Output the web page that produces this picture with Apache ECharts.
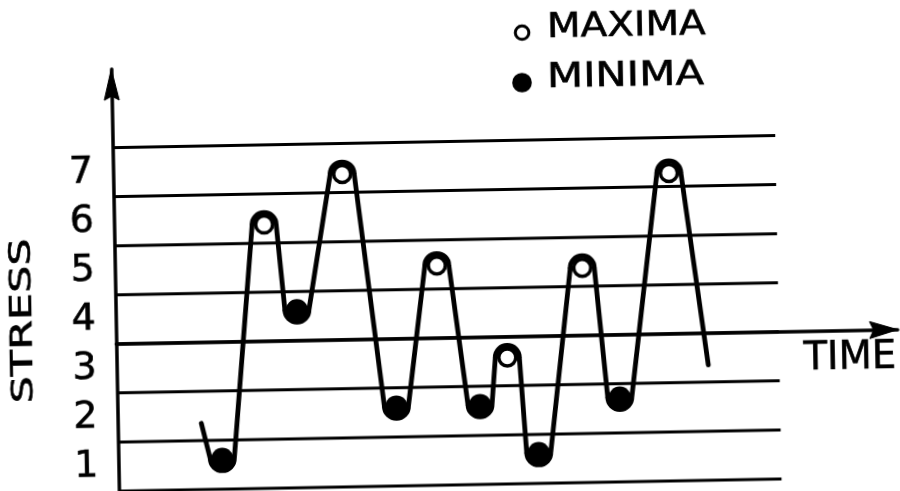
<!DOCTYPE html>
<html>
<head>
<meta charset="utf-8">
<script src="https://cdn.jsdelivr.net/npm/echarts@6/dist/echarts.min.js"></script>
<style>
  html, body { margin: 0; padding: 0; background: #fff; overflow: hidden; }
  #chart { width: 900px; height: 491px; transform: rotate(-1.05deg); }
</style>
</head>
<body>
<div id="chart"></div>
<script>
// Turning points of the stress history (time in arbitrary units, stress level)
const timeValues   = [10.7, 13.3, 19.2, 23.2, 29.3, 35.7, 41.2, 46.4, 50.0, 53.8, 59.8, 64.3, 71.1, 75.7];
const stressValues = [1.85, 1,    6,    4,    7,    2,    5.1,  2,    3.2,  1,    5,    2.1,  6.9,  2.85];
const pointKinds   = ['start', 'min', 'max', 'min', 'max', 'min', 'max', 'min', 'max', 'min', 'max', 'min', 'max', 'end'];

// Stress level labels and the band boundaries drawn across the chart
const stressTicks = [1, 2, 3, 4, 5, 6, 7];
const levelLines  = [0.5, 1.5, 2.5, 3.5, 4.5, 5.5, 6.5, 7.5];

const FONT = 'DejaVu Sans';
const X_MAX = 100, Y_MIN = 0.5, Y_MAX = 9.1;
const TIME_AXIS_LEVEL = 3.5;   // the time axis runs along this band line
const LEVEL_LINE_END = 84.8;   // time where the band lines stop
const CAP_R = 12;              // radius of the rounded turning caps (px)
const INSET = 6;               // marker centre sits this far inside the extreme (px)

const chart = echarts.init(document.getElementById('chart'), null, { renderer: 'canvas' });

// Band lines: one horizontal line per level
function renderLevel(params, api) {
  const L = levelLines[params.dataIndex];
  const a = api.coord([0, L]);
  const b = api.coord([LEVEL_LINE_END, L]);
  return {
    type: 'line',
    shape: { x1: a[0], y1: a[1], x2: b[0], y2: b[1] },
    style: { stroke: '#000', lineWidth: 3 }
  };
}

// Solid arrow heads at the ends of both axes
function renderArrows(params, api) {
  const up = api.coord([0, Y_MAX]);
  const right = api.coord([X_MAX, TIME_AXIS_LEVEL]);
  const yHead = [[up[0], up[1]], [up[0] + 7.5, up[1] + 31], [up[0], up[1] + 27], [up[0] - 7.5, up[1] + 31]];
  const xHead = [[right[0], right[1]], [right[0] - 28, right[1] + 8.5], [right[0] - 24, right[1]], [right[0] - 28, right[1] - 8.5]];
  return {
    type: 'group',
    children: [
      { type: 'polygon', shape: { points: yHead }, style: { fill: '#000', stroke: '#000', lineWidth: 1, lineJoin: 'round' } },
      { type: 'polygon', shape: { points: xHead }, style: { fill: '#000', stroke: '#000', lineWidth: 1, lineJoin: 'round' } }
    ]
  };
}

// Stress curve: a rounded cap at every turning point, straight flanks between them
function capCentreY(kind, y) {
  return kind === 'min' ? y - INSET : y + INSET;
}
function renderCurve(params, api) {
  const i = params.dataIndex;
  if (i >= timeValues.length - 1) return null;
  const kind = pointKinds[i];
  const nextKind = pointKinds[i + 1];
  const p = api.coord([timeValues[i], stressValues[i]]);
  const q = api.coord([timeValues[i + 1], stressValues[i + 1]]);
  let d;
  if (kind === 'start') {
    d = 'M' + p[0] + ' ' + p[1];
  } else {
    const cy = capCentreY(kind, p[1]);
    const sweep = kind === 'max' ? 1 : 0;
    d = 'M' + (p[0] - CAP_R) + ' ' + cy +
        ' A' + CAP_R + ' ' + CAP_R + ' 0 0 ' + sweep + ' ' + (p[0] + CAP_R) + ' ' + cy;
  }
  if (nextKind === 'end') {
    d += ' L' + q[0] + ' ' + q[1];
  } else {
    d += ' L' + (q[0] - CAP_R) + ' ' + capCentreY(nextKind, q[1]);
  }
  return {
    type: 'path',
    shape: { pathData: d },
    style: { fill: 'none', stroke: '#000', lineWidth: 4.8, lineCap: 'round', lineJoin: 'round' }
  };
}

const curveData = timeValues.map((t, i) => [t, stressValues[i]]);
const maximaData = curveData.filter((_, i) => pointKinds[i] === 'max');
const minimaData = curveData.filter((_, i) => pointKinds[i] === 'min');

// Lettering: a touch heavier than the regular face
function lettering(text, size) {
  return {
    text: text, font: size + 'px "' + FONT + '"', fill: '#000',
    stroke: '#000', lineWidth: 0.6
  };
}

const option = {
  animation: false,
  backgroundColor: '#fff',
  grid: { left: 114.5, right: 4, top: 63, bottom: 6, containLabel: false, outerBoundsMode: 'none' },
  xAxis: {
    type: 'value', min: 0, max: X_MAX,
    offset: -147.2,
    splitLine: { show: false },
    axisTick: { show: false },
    axisLabel: { show: false },
    axisLine: { show: true, onZero: false, lineStyle: { color: '#000', width: 3.5 } }
  },
  yAxis: {
    type: 'value', min: Y_MIN, max: Y_MAX,
    splitLine: { show: false },
    axisTick: { show: false },
    axisLine: { show: true, onZero: false, lineStyle: { color: '#000', width: 3.5 } },
    axisLabel: {
      customValues: stressTicks,
      formatter: v => String(v),
      fontFamily: FONT, fontSize: 38, color: '#000', margin: 20,
      textBorderColor: '#000', textBorderWidth: 0.6
    }
  },
  graphic: [
    {
      type: 'text', x: 22.6, y: 313, rotation: Math.PI / 2, scaleX: 1.43,
      style: Object.assign(lettering('STRESS', 30), { align: 'center', verticalAlign: 'middle' })
    },
    {
      type: 'text', x: 894, y: 366,
      style: Object.assign(lettering('TIME', 38.5), { align: 'right', verticalAlign: 'middle' })
    },
    {
      type: 'circle', shape: { cx: 526, cy: 34, r: 6.8 },
      style: { fill: '#fff', stroke: '#000', lineWidth: 3 }
    },
    {
      type: 'text', x: 551, y: 30, scaleX: 1.18,
      style: Object.assign(lettering('MAXIMA', 33), { align: 'left', verticalAlign: 'middle' })
    },
    {
      type: 'circle', shape: { cx: 525, cy: 84, r: 9.8 },
      style: { fill: '#000' }
    },
    {
      type: 'text', x: 550, y: 80.5, scaleX: 1.27,
      style: Object.assign(lettering('MINIMA', 33), { align: 'left', verticalAlign: 'middle' })
    }
  ],
  series: [
    {
      name: 'levels', type: 'custom', z: 1, silent: true,
      data: levelLines.map(L => [0, L]),
      encode: { x: 0, y: 1 },
      renderItem: renderLevel
    },
    {
      name: 'arrows', type: 'custom', z: 2, silent: true,
      data: [[X_MAX, TIME_AXIS_LEVEL]],
      encode: { x: 0, y: 1 },
      renderItem: renderArrows
    },
    {
      name: 'stress', type: 'custom', z: 3, silent: true,
      data: curveData,
      encode: { x: 0, y: 1 },
      renderItem: renderCurve
    },
    {
      name: 'MAXIMA', type: 'scatter', z: 5, silent: true,
      data: maximaData,
      symbol: 'circle', symbolSize: 17, symbolOffset: [0, INSET],
      itemStyle: { color: '#fff', borderColor: '#000', borderWidth: 3.5, opacity: 1 }
    },
    {
      name: 'MINIMA', type: 'scatter', z: 5, silent: true,
      data: minimaData,
      symbol: 'circle', symbolSize: 22, symbolOffset: [0, -INSET],
      itemStyle: { color: '#000', opacity: 1 }
    }
  ]
};

chart.setOption(option);
</script>
</body>
</html>
